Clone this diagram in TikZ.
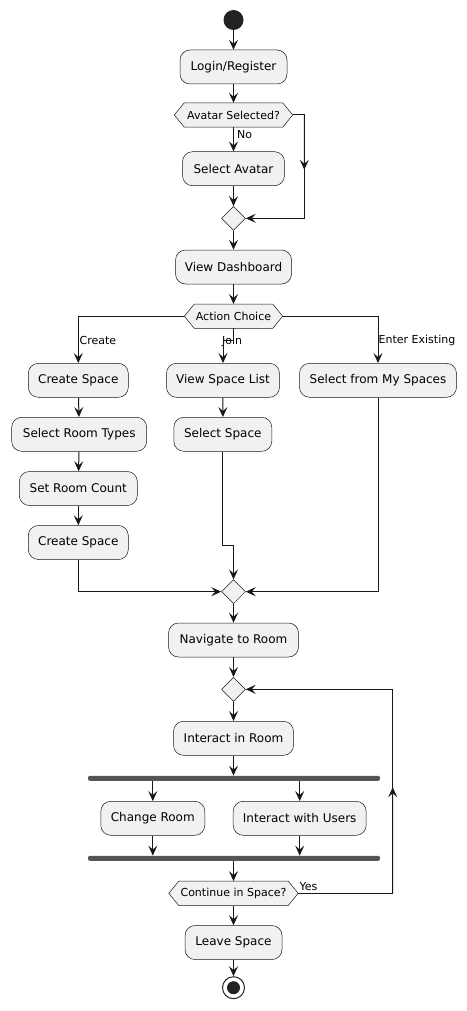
\documentclass[tikz,border=0pt]{standalone}
\usepackage{fontspec}
\setmainfont{DejaVu Sans}
\usetikzlibrary{arrows.meta,shapes.geometric,calc}
\definecolor{nodefill}{HTML}{F1F1F1}
\definecolor{ink}{HTML}{181818}
\definecolor{barc}{HTML}{555555}
\definecolor{dotc}{HTML}{222222}
\pgfdeclarelayer{background}
\pgfsetlayers{background,main}
\tikzset{
  actbox/.style={rectangle, rounded corners=10pt, draw=ink, line width=0.5pt, fill=nodefill,
    minimum height=34pt, inner sep=0pt, font=\fontsize{12}{14}\selectfont},
  decbox/.style={rectangle, draw=none, minimum height=24pt, inner sep=0pt, font=\fontsize{11}{13}\selectfont},
  hexdraw/.style={draw=ink, line width=0.5pt, fill=nodefill},
  mergebox/.style={diamond, draw=ink, line width=0.5pt, fill=nodefill, minimum width=24pt, minimum height=24pt, inner sep=0pt},
  barbox/.style={rectangle, rounded corners=2pt, fill=barc, minimum width=292pt, minimum height=5pt, inner sep=0pt},
  conn/.style={draw=ink, line width=1pt},
  arr/.style={conn, -{Stealth[length=10pt,width=9pt,inset=4pt]}},
  lab/.style={font=\fontsize{11}{13}\selectfont, inner sep=1pt, anchor=west},
}
\newcommand\hexshape[1]{\draw[hexdraw] (#1.west) -- ([xshift=10pt]#1.north west) -- ([xshift=-10pt]#1.north east) -- (#1.east) -- ([xshift=-10pt]#1.south east) -- ([xshift=10pt]#1.south west) -- cycle;}
\begin{document}
\begin{tikzpicture}[x=1pt,y=-1pt]
\useasboundingbox (0,0) rectangle (466,1011);
% nodes
\node[circle, fill=dotc, minimum size=20pt, inner sep=0pt] (start) at (233.5,20) {};
\node[actbox, minimum width=107pt] (login) at (233.5,67) {Login/Register};
\node[decbox, minimum width=118pt] (avq) at (233.5,115) {Avatar Selected?};
\node[actbox, minimum width=102pt] (selav) at (233.5,168.7) {Select Avatar};
\node[mergebox] (mA) at (233.5,218.3) {};
\node[actbox, minimum width=116pt] (dash) at (233.5,267) {View Dashboard};
\node[decbox, minimum width=98pt] (act) at (233.5,316.2) {Action Choice};
\node[actbox, minimum width=100pt] (cs1) at (78.3,380.3) {Create Space};
\node[actbox, minimum width=113pt] (vsl) at (223,380.3) {View Space List};
\node[actbox, minimum width=157pt] (sfms) at (378,380.3) {Select from My Spaces};
\node[actbox, minimum width=135pt] (srt) at (79.2,434.3) {Select Room Types};
\node[actbox, minimum width=98pt] (ss) at (222.8,434.3) {Select Space};
\node[actbox, minimum width=118pt] (src) at (78.3,488.5) {Set Room Count};
\node[actbox, minimum width=100pt] (cs2) at (78.3,542.5) {Create Space};
\node[mergebox] (mB) at (233.5,591.7) {};
\node[actbox, minimum width=130pt] (nav) at (233.5,640) {Navigate to Room};
\node[mergebox] (mC) at (233.5,689.3) {};
\node[actbox, minimum width=120pt] (iir) at (233.5,738.3) {Interact in Room};
\node[barbox] (fork) at (234,778.3) {};
\node[actbox, minimum width=104pt] (chr) at (152.8,818.3) {Change Room};
\node[actbox, minimum width=133pt] (iwu) at (299.7,818.3) {Interact with Users};
\node[barbox] (join) at (234,858.3) {};
\node[decbox, minimum width=129pt] (cont) at (233.5,893.3) {Continue in Space?};
\node[actbox, minimum width=97pt] (leave) at (233.5,942.5) {Leave Space};
\node[circle, draw=dotc, line width=1pt, fill=white, minimum size=22pt, inner sep=0pt] (stop) at (233.5,987.7) {};
\node[circle, fill=dotc, minimum size=13pt, inner sep=0pt] (stopin) at (stop) {};
\begin{pgfonlayer}{background}
\hexshape{avq}
\hexshape{act}
\hexshape{cont}
\end{pgfonlayer}
% labels
\node[lab] (lno) at (236,135) {No};
\node[lab] (lcreate) at (78.5,340) {Create};
\node[lab] (ljoin) at (221,341.5) {Join};
\node[lab] (lenter) at (377.5,340) {Enter Existing};
\node[lab] (lyes) at (298.5,886.5) {Yes};
% coordinates
\coordinate (ra) at (304.3,115);
\coordinate (jj) at (233.5,340);
\coordinate (sj) at (233.5,545.7);
\coordinate (lp) at (392.7,893.3);
% connectors
\draw[arr] (start) -- (login);
\draw[arr] (login) -- (avq);
\draw[arr] (avq) -- (selav);
\draw[arr] (avq.east) -- (ra) |- (mA.east);
\draw[arr] (ra) -- ($(ra)!0.53!(ra |- mA)$);
\draw[arr] (selav) -- (mA);
\draw[arr] (mA) -- (dash);
\draw[arr] (dash) -- (act);
\draw[arr] (act.west) -| (cs1.north);
\draw[arr] (act.south) -- (jj) -| (vsl.north);
\draw[arr] (act.east) -| (sfms.north);
\draw[arr] (cs1) -- (srt);
\draw[arr] (srt) -- (src);
\draw[arr] (src) -- (cs2);
\draw[arr] (vsl) -- (ss);
\draw[arr] (ss.south) |- (sj) -- (mB.north);
\draw[arr] (cs2.south) |- (mB.west);
\draw[arr] (sfms.south) |- (mB.east);
\draw[arr] (mB) -- (nav);
\draw[arr] (nav) -- (mC);
\draw[arr] (mC) -- (iir);
\draw[arr] (iir.south) -- (iir.south |- fork.north);
\draw[arr] (chr.north |- fork.south) -- (chr.north);
\draw[arr] (iwu.north |- fork.south) -- (iwu.north);
\draw[arr] (chr.south) -- (chr.south |- join.north);
\draw[arr] (iwu.south) -- (iwu.south |- join.north);
\draw[arr] (join.south -| cont.north) -- (cont.north);
\draw[arr] (cont.east) -- (lp) |- (mC.east);
\draw[arr] (lp) -- ($(lp)!0.52!(lp |- mC)$);
\draw[arr] (cont) -- (leave);
\draw[arr] (leave) -- (stop);
\end{tikzpicture}
\end{document}
